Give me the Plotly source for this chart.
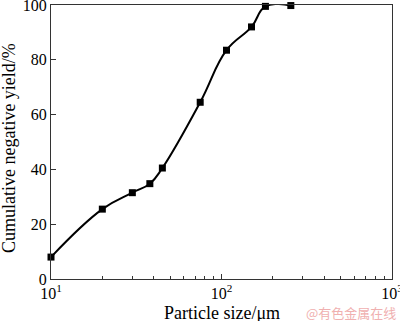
import plotly.graph_objects as go

size_um = [10, 20, 30, 38, 45, 75, 107, 150, 181, 255]
yield_pct = [8, 25.5, 31.5, 34.8, 40.5, 64.5, 83.5, 92, 99.5, 99.8]

x_tickvals = [10, 100, 1000]
x_ticktext = ["10<sup>1</sup>", "10<sup>2</sup>", "10<sup>3</sup>"]
y_tickvals = [0, 20, 40, 60, 80, 100]

font = "Liberation Serif, Times New Roman, serif"

fig = go.Figure()
fig.add_trace(go.Scatter(
    x=size_um, y=yield_pct, mode="lines+markers",
    line=dict(color="black", width=2, shape="spline", smoothing=1.2),
    marker=dict(symbol="square", size=7, color="black"),
    cliponaxis=False, showlegend=False, hoverinfo="skip",
))

fig.update_layout(
    width=400, height=321,
    margin=dict(l=51, r=8, t=5, b=42, autoexpand=False),
    paper_bgcolor="white", plot_bgcolor="white",
    font=dict(family=font, size=16, color="black"),
    annotations=[
        dict(text="Particle size/μm", xref="paper", yref="paper",
             x=0.5, y=-0.124, xanchor="center", yanchor="middle",
             showarrow=False, font=dict(family=font, size=18, color="black")),
        dict(text="Cumulative negative yield/%", xref="paper", yref="paper",
             x=-0.123, y=0.478, xanchor="center", yanchor="middle", textangle=-90,
             showarrow=False, font=dict(family=font, size=18, color="black")),
        dict(text="@有色金属在线", xref="paper", yref="paper",
             x=1.018, y=-0.124, xanchor="right", yanchor="middle",
             showarrow=False,
             font=dict(family="Noto Sans CJK SC", size=13, color="#f0b0b0")),
    ],
)
fig.update_xaxes(
    type="log", range=[1, 3], automargin=False,
    tickvals=x_tickvals, ticktext=x_ticktext,
    ticks="inside", ticklen=5, tickcolor="#333",
    minor=dict(ticks="inside", ticklen=3, tickcolor="#333", dtick="D1"),
    showline=True, linecolor="#333", linewidth=1, mirror=True,
    showgrid=False, zeroline=False, ticklabeloverflow="allow",
    tickfont=dict(size=16),
)
fig.update_yaxes(
    range=[0, 100], tickvals=y_tickvals, automargin=False,
    ticks="inside", ticklen=5, tickcolor="#333",
    showline=True, linecolor="#333", linewidth=1, mirror=True,
    showgrid=False, zeroline=False, ticklabeloverflow="allow",
    tickfont=dict(size=16),
)

fig.write_html(
    "out.html",
    config={"displayModeBar": False},
    post_script="document.body.style.margin='0';document.body.style.overflow='hidden';",
)
